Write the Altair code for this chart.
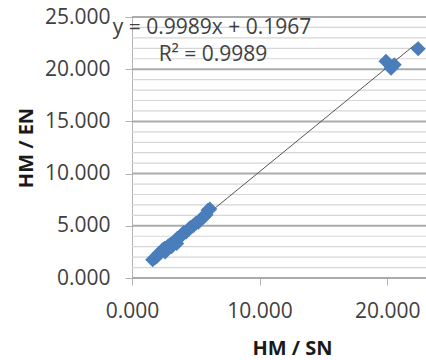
import altair as alt
import pandas as pd

# Measured ratios: HM/SN (x) against HM/EN (y)
hm_sn = [1.62, 1.80, 1.95, 2.10, 2.25, 2.40, 2.55, 2.60, 2.70, 2.85, 3.00, 3.10,
         3.20, 3.35, 3.50, 3.55, 3.70, 3.90, 4.05, 4.25, 4.45, 4.60, 4.80, 5.00,
         5.20, 5.40, 5.60, 5.80, 5.95, 6.10,
         19.90, 20.30, 20.55, 22.43]
hm_en = [1.75, 1.95, 2.05, 2.35, 2.45, 2.70, 2.85, 2.50, 2.90, 3.10, 3.20, 3.00,
         3.35, 3.55, 3.30, 3.80, 3.85, 4.10, 4.35, 4.40, 4.70, 4.85, 5.00, 5.25,
         5.35, 5.65, 5.85, 6.05, 6.50, 6.60,
         20.75, 20.10, 20.43, 21.96]

# Linear trendline as stated on the chart
slope = 0.9989
intercept = 0.1967
r_squared = 0.9989

x_ticks = [0, 10, 20]
y_ticks = [0, 5, 10, 15, 20, 25]
y_gridlines = list(range(0, 26))

FONT = "Open Sans"
X_MAX = 23.04
PLOT_W = 294
PLOT_H = 261

points_df = pd.DataFrame({"x": hm_sn, "y": hm_en})
trend_x = [min(hm_sn), max(hm_sn)]
trend_df = pd.DataFrame({"x": trend_x, "y": [slope * v + intercept for v in trend_x]})
grid_df = pd.DataFrame({"y": y_gridlines})

x_scale = alt.Scale(domain=[0, X_MAX], nice=False, zero=True)
y_scale = alt.Scale(domain=[0, 25], nice=False, zero=True)

x_axis = alt.Axis(
    values=x_ticks, format=".3f", grid=False,
    tickSize=7, tickColor="#b3b3b3", domainColor="#b3b3b3",
    labelFont=FONT, labelFontSize=21, labelColor="#404040", labelPadding=15,
    labelFlush=False, labelOverlap=False,
    title="HM / SN", titleFont=FONT, titleFontSize=20, titleFontWeight="bold",
    titleColor="#1a1a1a", titleX=160, titleY=76, titleBaseline="alphabetic",
    titleAlign="center", titleAnchor="middle",
)

y_axis = alt.Axis(
    values=y_ticks, format=".3f", grid=False,
    tickSize=7, tickColor="#b3b3b3", domainColor="#b3b3b3",
    labelFont=FONT, labelFontSize=21, labelColor="#404040", labelPadding=15,
    labelFlush=False, labelOverlap=False,
    title="HM / EN", titleFont=FONT, titleFontSize=20, titleFontWeight="bold",
    titleColor="#1a1a1a", titleX=-100, titleY=PLOT_H / 2, titleBaseline="alphabetic",
    titleAlign="center", titleAngle=270,
)

# Horizontal gridlines every 1.0, heavier at the labelled values
is_major = "datum.y % 5 === 0"
grid = alt.Chart(grid_df).mark_rule().encode(
    y=alt.Y("y:Q", scale=y_scale, axis=y_axis),
    x=alt.value(0),
    x2=alt.value(PLOT_W),
    color=alt.condition(is_major, alt.value("#ababab"), alt.value("#d6d6d6")),
    strokeWidth=alt.condition(is_major, alt.value(2), alt.value(1.2)),
)

points = alt.Chart(points_df).mark_point(
    shape="diamond", filled=True, size=225, color="#4a7ebb", opacity=1
).encode(
    x=alt.X("x:Q", scale=x_scale, axis=x_axis),
    y=alt.Y("y:Q", scale=y_scale, axis=y_axis),
)

trend = alt.Chart(trend_df).mark_line(color="#555555", strokeWidth=1).encode(
    x=alt.X("x:Q", scale=x_scale, axis=x_axis),
    y=alt.Y("y:Q", scale=y_scale, axis=y_axis),
)

# Trendline equation and R² in the upper-left of the plot
eq_line = alt.Chart(pd.DataFrame({"t": [f"y = {slope}x + {intercept}"]})).mark_text(
    font=FONT, fontSize=21, color="#404040", align="center", baseline="middle"
).encode(x=alt.value(80), y=alt.value(11), text="t:N")

r2_line = alt.Chart(pd.DataFrame({"t": [f"R² = {r_squared}"]})).mark_text(
    font=FONT, fontSize=21, color="#404040", align="center", baseline="middle"
).encode(x=alt.value(81), y=alt.value(38), text="t:N")

chart = alt.layer(grid, trend, points, eq_line, r2_line).properties(
    width=PLOT_W, height=PLOT_H,
    autosize=alt.AutoSizeParams(type="none"),
    padding={"left": 132, "top": 17, "right": 0, "bottom": 82},
    background="white",
).configure_view(stroke=None)

chart.save("out.html", embed_options={"renderer": "svg", "actions": False})
